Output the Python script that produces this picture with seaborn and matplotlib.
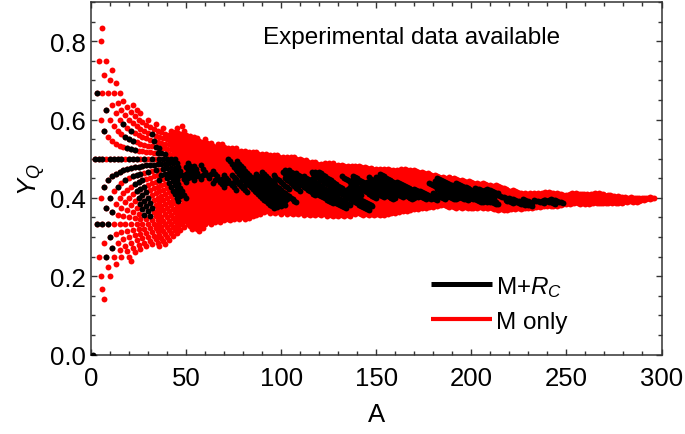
import numpy as np
import pandas as pd
import matplotlib
matplotlib.use("Agg")
import matplotlib.pyplot as plt
from matplotlib.lines import Line2D
from matplotlib.ticker import MultipleLocator
import seaborn as sns

# lightest and heaviest mass number per Z (Z = 1..118)
red_amin = [2, 3, 4, 5, 6, 8, 10, 11, 13, 15, 17, 19, 21, 22, 24, 26, 29, 30, 33, 34,
            37, 38, 41, 42, 44, 45, 48, 48, 52, 54, 56, 59, 60, 63, 66, 67, 69, 72, 74, 76,
            79, 81, 83, 85, 87, 90, 92, 94, 96, 98, 101, 103, 105, 107, 110, 113, 116, 118, 121, 123,
            125, 127, 130, 132, 135, 137, 139, 141, 144, 147, 150, 152, 154, 156, 159, 161, 163, 165, 168, 170,
            174, 177, 181, 185, 188, 191, 195, 199, 203, 206, 210, 213, 222, 228, 231, 233, 235, 237, 239, 241,
            245, 250, 252, 253, 255, 258, 261, 263, 265, 267, 272, 277, 281, 284, 287, 290, 292, 294]
red_amax = [7, 10, 13, 16, 21, 23, 26, 29, 32, 36, 39, 41, 43, 45, 47, 49, 53, 57, 59, 60,
            63, 65, 68, 70, 73, 75, 78, 81, 83, 85, 87, 89, 91, 94, 97, 100, 103, 106, 109, 112,
            115, 118, 121, 124, 127, 130, 133, 136, 136, 139, 143, 146, 149, 152, 154, 156, 158, 160, 162, 164,
            166, 168, 170, 172, 174, 176, 178, 180, 182, 184, 188, 192, 195, 198, 201, 203, 206, 209, 214, 217,
            219, 221, 223, 226, 228, 230, 232, 234, 236, 238, 240, 243, 245, 247, 248, 250, 252, 254, 257, 260,
            262, 264, 267, 269, 272, 274, 277, 279, 280, 282, 285, 287, 288, 289, 291, 292, 294, 296]

# chains with experimental radii: Z, first A, last A
black_z = [0, 1, 2, 2, 2, 3, 4, 4, 5, 5, 6, 6, 7, 7, 8, 8, 9, 10, 11, 12,
           13, 14, 15, 16, 16, 17, 17, 18, 19, 20, 21, 22, 23, 24, 25, 26, 27, 28, 28, 29,
           29, 30, 31, 32, 33, 34, 35, 35, 36, 37, 38, 39, 40, 41, 42, 44, 46, 47, 48, 49,
           50, 51, 52, 53, 53, 54, 55, 56, 57, 58, 59, 60, 61, 62, 63, 64, 65, 66, 67, 68,
           69, 70, 71, 72, 73, 74, 75, 75, 76, 77, 78, 79, 80, 81, 82, 83, 84, 86, 86, 87,
           88, 88, 90, 92, 93, 94, 95, 95, 96]
black_amin = [1, 2, 3, 6, 8, 6, 7, 9, 8, 10, 12, 14, 14, 15, 16, 18, 19, 17, 20, 21,
              27, 28, 31, 32, 36, 35, 37, 32, 36, 39, 42, 44, 50, 50, 51, 54, 59, 58, 64, 63,
              65, 64, 69, 70, 75, 74, 79, 81, 72, 76, 77, 86, 87, 90, 90, 96, 102, 101, 102, 104,
              108, 112, 116, 127, 129, 116, 118, 120, 135, 136, 141, 132, 147, 138, 138, 145, 147, 146, 151, 150,
              153, 152, 161, 170, 181, 180, 185, 187, 184, 182, 178, 183, 181, 184, 182, 202, 192, 202, 218, 207,
              208, 220, 227, 233, 237, 238, 241, 243, 242]
black_amax = [1, 3, 4, 6, 8, 11, 7, 11, 8, 11, 13, 14, 14, 15, 17, 18, 19, 28, 31, 32,
              27, 30, 31, 34, 36, 35, 37, 46, 47, 50, 46, 50, 51, 54, 55, 58, 59, 62, 64, 63,
              65, 70, 71, 76, 75, 82, 79, 81, 96, 98, 100, 102, 102, 103, 108, 104, 110, 109, 118, 127,
              134, 134, 136, 127, 129, 146, 146, 148, 139, 142, 141, 150, 147, 154, 159, 160, 159, 164, 169, 170,
              172, 176, 179, 182, 181, 186, 185, 187, 192, 193, 198, 199, 206, 208, 214, 213, 212, 212, 222, 228,
              214, 232, 232, 238, 237, 244, 241, 243, 248]

labels = ["M+$R_C$", "M only"]


def chain_frame(zs, amins, amaxs):
    # one row per nuclide, Y_Q is just Z/A
    rows = []
    for z, lo, hi in zip(zs, amins, amaxs):
        for a in range(lo, hi + 1):
            rows.append((a, z / a))
    return pd.DataFrame(rows, columns=["A", "YQ"])


red = chain_frame(range(1, 119), red_amin, red_amax)
black = chain_frame(black_z, black_amin, black_amax)

sns.set_style("ticks")
plt.rcParams["font.family"] = ["Liberation Sans", "DejaVu Sans"]
plt.rcParams["mathtext.fontset"] = "custom"
plt.rcParams["mathtext.rm"] = "Liberation Sans"
plt.rcParams["mathtext.it"] = "Liberation Sans:italic"
plt.rcParams["text.color"] = "black"
plt.rcParams["axes.labelcolor"] = "black"
plt.rcParams["xtick.labelcolor"] = "black"
plt.rcParams["ytick.labelcolor"] = "black"

fig = plt.figure(figsize=(6.85, 4.35), dpi=100)
ax = fig.add_axes([91 / 685, 1 - 355.5 / 435, 570.5 / 685, 352.5 / 435])

sns.scatterplot(data=red, x="A", y="YQ", color="#ff0000", s=18, linewidth=0, ax=ax, zorder=2)
sns.scatterplot(data=black, x="A", y="YQ", color="black", s=18, linewidth=0, ax=ax, zorder=3)

ax.set_xlim(0, 300)
ax.set_ylim(0, 0.9)
ax.xaxis.set_major_locator(MultipleLocator(50))
ax.xaxis.set_minor_locator(MultipleLocator(10))
ax.yaxis.set_major_locator(MultipleLocator(0.2))
ax.yaxis.set_minor_locator(MultipleLocator(0.05))
ax.tick_params(which="both", direction="in", top=True, right=True, color="#333333", width=1)
ax.tick_params(which="major", length=4.5, labelsize=18.5)
ax.tick_params(which="minor", length=2.8)
ax.tick_params(axis="x", which="major", labeltop=False, pad=8)
ax.tick_params(axis="y", which="major", labelright=False, pad=4)
for s in ax.spines.values():
    s.set_linewidth(1.1)
    s.set_color("#333333")

ax.set_xlabel("A", fontsize=18.5, labelpad=9)
ax.set_ylabel("$Y_Q$", fontsize=18.5, labelpad=2)
ax.text(0.5627, 0.9, "Experimental data available", transform=ax.transAxes, ha="center",
        va="center", fontsize=17.5)

handles = [Line2D([], [], color="black", lw=3.6, solid_capstyle="butt"),
           Line2D([], [], color="#ff0000", lw=3.0, solid_capstyle="butt")]
ax.legend(handles, labels, loc="lower left", bbox_to_anchor=(0.596, 0.061), frameon=False,
          fontsize=17.5, handlelength=2.5, handletextpad=0.17, labelspacing=0.5,
          borderpad=0, borderaxespad=0)

fig.savefig("out.png", dpi=100)
